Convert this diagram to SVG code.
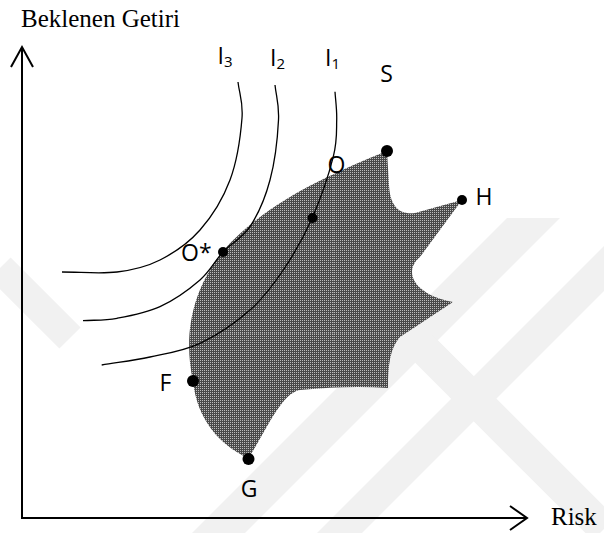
<svg xmlns="http://www.w3.org/2000/svg" width="604" height="533" viewBox="0 0 604 533">
<defs>
  <pattern id="chk" width="2" height="2" patternUnits="userSpaceOnUse">
    <rect width="2" height="2" fill="#4a4a4a"/>
    <rect width="1" height="1" fill="#bdbdbd"/>
  </pattern>
  <clipPath id="shapeClip">
    <path d="M387,151 C328,175 265,203 223,251 C192,290 183,335 193,381 C197,420 220,445 248,458 C262,440 280,393 300,390 Q350,385 388,388 C388,365 390,348 400,337 L453,302 C415,295 402,272 420,257 L462,200 L415,213 C398,215 390,205 389,185 L387,151 Z"/>
  </clipPath>
</defs>
<style>
  .axis { stroke:#000; stroke-width:2; fill:none; }
  .curve { stroke:#000; stroke-width:1.3; fill:none; }
  .wm { fill:#f1f1f1; stroke:none; }
  .wml { stroke:#f1f1f1; fill:none; }
  .dot { fill:#000; }
  .lbl { font-family:"Open Sans","Noto Sans",sans-serif; font-size:23px; fill:#000; }
  .sub { font-family:"Open Sans","Noto Sans",sans-serif; font-size:15px; fill:#000; }
  .ax { font-family:"Liberation Serif","Times New Roman",serif; font-size:25px; fill:#000; }
  .grid { stroke:#9a9a9a; stroke-width:1; stroke-dasharray:1 1; fill:none; }
</style>
<rect width="604" height="533" fill="#fff"/>
<g id="watermark">
  <polygon class="wm" points="507,218 560,218 245,533 192,533"/>
  <polygon class="wm" points="604,246 604,291 362,533 317,533"/>
  <line class="wml" x1="405" y1="330" x2="604" y2="529" stroke-width="32"/>
  <line class="wml" x1="0" y1="268" x2="70" y2="338" stroke-width="30"/>
</g>
<g id="region">
  <path d="M387,151 C328,175 265,203 223,251 C192,290 183,335 193,381 C197,420 220,445 248,458 C262,440 280,393 300,390 Q350,385 388,388 C388,365 390,348 400,337 L453,302 C415,295 402,272 420,257 L462,200 L415,213 C398,215 390,205 389,185 L387,151 Z" fill="url(#chk)"/>
  <g clip-path="url(#shapeClip)" opacity="0.6">
    <line class="grid" x1="247" y1="140" x2="247" y2="470"/>
    <line class="grid" x1="333.5" y1="140" x2="333.5" y2="470"/>
    <line class="grid" x1="420" y1="140" x2="420" y2="470"/>
    <line class="grid" x1="180" y1="247" x2="470" y2="247"/>
    <line class="grid" x1="180" y1="333.5" x2="470" y2="333.5"/>
    <line class="grid" x1="180" y1="420" x2="470" y2="420"/>
  </g>
</g>
<g id="connectors">
  <path class="axis" d="M22,47 L22,518 L527,518"/>
  <path class="axis" d="M11,67 L22,47 L33,67"/>
  <path class="axis" d="M510,506 L527,518 L510,530"/>
  <path id="I3" class="curve" d="M238,82 C239.3,94 243.3,101.7 242,118 C240.7,134.3 237,161.3 230,180 C223,198.7 211.7,216.7 200,230 C188.3,243.3 173.8,253 160,260 C146.2,267 133.3,270 117,272 C100.7,274 80.3,272 62,272"/>
  <path id="I2" class="curve" d="M275,85 C276.2,96.7 279.3,104.2 278.5,120 C277.7,135.8 274.8,162.2 270,180 C265.3,197.8 257.8,214.7 250,226.7 C242.2,238.7 231.3,243.1 223,252 C214.7,260.9 210.5,270.9 200,280 C189.5,289.1 173.8,300.3 160,306.7 C146.2,313.1 129.8,316 117,318.3 C104.2,320.6 94.3,319.9 83,320.7"/>
  <path id="I1" class="curve" d="M335,91.7 C335.6,101.1 337,109.2 336.7,120 C336.4,130.8 337.4,140.4 333.3,156.7 C329.2,173 320.6,198.8 312.3,217.7 C304,236.6 293.7,254.6 283.3,270 C272.9,285.4 263.9,297.8 250,310 C236.1,322.2 216.7,335.5 200,343.3 C183.3,351.1 166.4,353.4 150,357 C133.6,360.6 117.8,362.3 101.7,365"/>
</g>
<g id="node-S"><circle class="dot" cx="387" cy="151" r="6"/><text class="lbl" x="386.5" y="81.5" text-anchor="middle">S</text></g>
<g id="node-H"><circle class="dot" cx="462" cy="200" r="5"/><text class="lbl" x="484" y="205" text-anchor="middle">H</text></g>
<g id="node-O"><circle class="dot" cx="312.5" cy="218" r="5"/><text class="lbl" x="336.5" y="172.5" text-anchor="middle">O</text></g>
<g id="node-Ostar"><circle class="dot" cx="223" cy="252" r="5"/><text class="lbl" x="181" y="260.5">O*</text></g>
<g id="node-F"><circle class="dot" cx="193" cy="381" r="6"/><text class="lbl" x="165.5" y="390.5" text-anchor="middle">F</text></g>
<g id="node-G"><circle class="dot" cx="248.5" cy="459" r="6"/><text class="lbl" x="249" y="496.5" text-anchor="middle">G</text></g>
<g id="label-I3"><text class="lbl" x="217.5" y="64">I<tspan class="sub" dy="3">3</tspan></text></g>
<g id="label-I2"><text class="lbl" x="270" y="66">I<tspan class="sub" dy="3">2</tspan></text></g>
<g id="label-I1"><text class="lbl" x="325" y="66">I<tspan class="sub" dy="3">1</tspan></text></g>
<g id="axis-labels">
  <text class="ax" x="21" y="27">Beklenen Getiri</text>
  <text class="ax" x="551" y="525">Risk</text>
</g>
</svg>
